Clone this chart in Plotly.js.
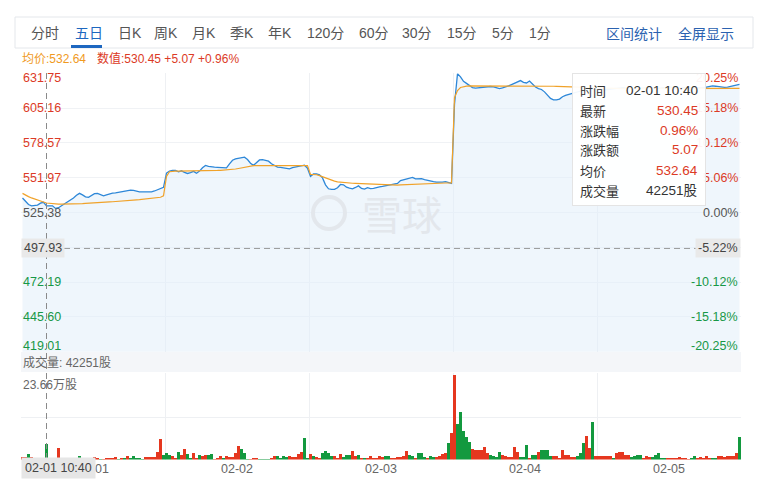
<!DOCTYPE html>
<html><head><meta charset="utf-8">
<script src="https://cdn.plot.ly/plotly-3.0.1.min.js"></script>
<style>html,body{margin:0;padding:0;background:#fff}#c{width:769px;height:483px}</style>
</head><body><div id="c"></div>
<script>
// ---------- data ----------
const days = ['02-01','02-02','02-03','02-04','02-05'];
const perDay = 48;
const price1 = [536.5,534,531.5,530.4,530.8,531,532.5,533.2,530.45,530.4,530.5,528.5,529,530.5,532,533.3,534.5,536.5,538.5,540,538.8,537.3,537,538.5,539.8,540,538.8,538.1,538.8,539.6,540.2,540.4,540.8,541.2,541.4,541.9,542.4,542.2,541.6,541.2,541.2,541.1,541.2,541.2,541.8,542.6,543.4,544.6];
const price2 = [555.5,557,557.5,557.6,556.4,557.2,556,555.2,555.8,556.8,555.4,557,559.5,561.3,560.6,560.1,560,559.9,559.7,559.6,559.4,562.5,565.3,566.3,566.9,567.3,567.6,565.8,563,561.4,563.8,565.5,565.8,565.4,564.6,562.6,561,560.1,559.9,559.6,559.1,558.7,559.6,560.2,560.5,561,561.5,559.2];
const price3 = [553,554.8,554.8,554.2,551.8,546.5,543.5,543,543,544.3,546.8,546.5,544.7,544,543.4,544.5,545.7,543.8,543.2,544.4,543.6,543.8,544.6,545,545.3,545.7,546.1,546.5,546.8,547.6,549.8,550.4,551,551.7,552.2,551.1,551.4,551.3,550.4,549.8,549.3,548.9,548.6,548.4,548.6,548.9,548.5,547.6];
const price4 = [608,631.3,629,625.5,624,622.5,620.8,620.4,620.6,621.1,621.5,621.7,621.6,621.3,620.8,620,620.5,621,622,623,624,625.2,626.1,624.8,624.3,625.8,623.5,621.2,620,619.3,617.5,615.2,612.5,611.4,611.4,612,613.8,614.8,615.6,616.4,617,617.5,618,618.5,619,619.3,619.5,619.8];
const price5 = [619.5,619.2,619,619.3,619.6,619.9,620.2,620.5,620.8,620.5,620.2,620,619.8,620,620.3,620.6,620.8,621,620.7,620.4,620.2,620.5,620.8,621.1,621.3,621,620.7,620.5,620.8,621,621.2,621.4,621.1,620.8,620.5,620.7,621.2,621.6,622,621.8,621.4,621,620.9,621.2,621.6,622,622.6,623.3];

const avg1 = [540,538.6,537.5,536.5,535.6,534.9,534.2,533.4,532.64,532.3,532.1,531.9,531.8,531.7,531.7,531.7,531.7,531.8,531.9,532,532.2,532.4,532.6,532.8,533,533.1,533.2,533.3,533.4,533.5,533.6,533.7,533.8,534,534.2,534.4,534.6,534.8,535,535.2,535.4,535.6,535.8,536,536.1,536.4,537,538.1];
const avg2 = [553,556.5,557,557,557,557,557,557,557,557,557,557.1,557.2,557.3,557.3,557.4,557.5,557.5,557.6,557.7,557.8,558,558.3,558.6,559,559.5,560,560.5,560.9,561.1,561.2,561.2,561.2,561.2,561.2,561.2,561.2,561.2,561.2,561.2,561.2,561.2,561.2,561.2,561.2,561.2,561.2,561.2];
const avg3 = [554.5,554.6,554.2,553.5,552.6,551.5,550.5,549.8,549.3,548.8,548.5,548.3,548.1,547.9,547.7,547.6,547.5,547.4,547.3,547.2,547.1,547,546.8,546.6,546.4,546.3,546.3,546.3,546.3,546.3,546.4,546.5,546.7,546.9,547.1,547.3,547.5,547.6,547.7,547.8,547.8,547.9,547.9,547.9,547.9,547.9,547.9,547.9];
const avg4 = [613,618.5,620.8,621.6,621.9,622,622,622,622,622,622,622,622,622,622,622,622,622,622,622,622,622.1,622.2,622.2,622.3,622.3,622.3,622.3,622.2,622.2,622.1,622,621.9,621.8,621.7,621.6,621.5,621.4,621.3,621.2,621.1,621,620.9,620.8,620.7,620.6,620.5,620.4];
const avg5 = [620.3,620.2,620.2,620.1,620.1,620.1,620.1,620,620,620,620,620,620,620,620,620,620,620,620,620,620,620,620,620,620,620,620,620,620,620,620,620,620,620,620,620,620,620,620,620,620,620,620,620,620,620,620,620.1];

// volume in 万股, up: 1 = red, 0 = green
const vol1 = [0.75,0.7,1.6,0.65,0.5,0.5,0.4,0.3,4.23,0.5,0.2,0.2,3.3,0.4,0.3,0.3,0.3,0.5,0.4,0.95,0.4,0.4,0.2,0.3,0.75,0.4,0.2,0.2,0.3,0.55,0.5,0.65,0.2,0.4,0.5,0.95,0.3,0.95,0.5,0.3,0.2,0.75,0.75,0.75,0.75,2.2,5.8,1.4];
const up1  = [1,1,0,1,1,1,1,1,0,1,1,0,1,1,1,1,1,1,0,0,0,1,1,1,1,1,0,1,1,1,1,1,0,1,0,1,0,0,0,0,0,1,1,1,1,1,1,0];
const vol2 = [1.7,1.3,1.1,0.5,2.1,1.2,3.0,1.6,0.5,1.7,0.5,1.4,0.95,1.2,1.4,1.6,0.2,0.5,0.95,0.5,0.95,0.75,0.65,1.9,3.9,3.0,1.9,0.2,0.2,0.3,0.3,0.1,0.1,0.1,0.1,0.3,1.1,0.95,0.4,0.95,0.75,0.95,0.75,0.8,1.6,2.1,5.9,0.5];
const up2  = [0,0,1,1,0,1,1,0,0,1,1,0,1,1,0,0,1,1,1,0,1,1,1,1,1,0,0,0,1,1,1,0,0,0,0,1,1,0,0,0,0,1,1,1,1,1,0,0];
const vol3 = [1.6,0.95,0.75,0.4,1.7,2.3,1.9,1.1,0.95,0.5,1.6,0.75,1.4,1.4,2.3,1.0,1.3,0.5,0.4,0.3,0.95,0.5,0.4,0.95,0.75,0.95,0.9,0.5,0.3,0.6,0.6,0.9,2.3,1.2,0.9,0.5,1.9,1.7,0.6,0.4,0.9,0.8,0.6,1.1,1.5,1.7,4.5,7.3];
const up3  = [1,0,1,1,0,0,0,0,1,1,1,0,0,0,1,1,0,1,0,1,1,1,1,1,1,0,0,1,1,1,1,1,1,0,0,1,0,0,0,1,0,0,1,1,1,1,0,1];
const vol4 = [23.66,9.9,13.2,8.0,6.4,5.0,3.0,2.8,2.8,2.6,3.6,1.7,1.2,0.9,0.7,2.2,1.2,0.85,0.8,0.75,3.6,2.2,0.75,0.6,4.2,0.55,1.2,1.4,2.2,2.6,2.7,2.8,0.95,1.0,1.0,0.45,2.6,1.4,1.2,0.6,0.8,1.0,1.7,4.7,6.7,3.1,10.4,1.0];
const up4  = [1,0,0,0,0,0,1,1,1,1,1,1,0,0,0,0,1,1,1,1,1,1,0,0,0,1,0,0,1,0,0,0,0,1,1,1,1,1,1,1,1,0,0,0,1,1,0,1];
const vol5 = [1.0,0.85,1.0,0.85,0.85,0.3,1.7,2.0,2.2,1.4,1.2,0.6,1.0,1.2,1.2,0.55,1.0,0.75,0.8,1.2,1.7,0.55,0.55,0.45,0.55,0.3,0.5,0.75,0.45,0.3,0.2,0.3,1.0,0.55,0.75,0.5,0.85,0.3,0.3,0.45,1.0,1.0,0.75,1.0,0.9,1.0,1.9,6.2];
const up5  = [1,1,1,1,1,0,1,1,1,1,1,0,0,0,0,1,1,1,0,0,0,0,0,1,1,1,1,1,1,1,1,0,0,1,1,1,1,1,0,0,1,1,1,1,1,1,1,0];

const priceTicks = [631.75,605.16,578.57,551.97,525.38,498.79,472.19,445.60,419.01];
const leftLabelVals = [631.75,605.16,578.57,551.97,525.38,472.19,445.60,419.01];
const rightLabels = ['20.25%','15.18%','10.12%','5.06%','0.00%','-10.12%','-15.18%','-20.25%'];
const labelKind = ['up','up','up','up','base','down','down','down'];
const crossPrice = 497.93, crossPct = '-5.22%';
const crossIndex = 8, crossTime = '02-01 10:40';
const volMaxLabel = '23.66万股', volMax = 23.66;
const tipKeys = ['时间','最新','涨跌幅','涨跌额','均价','成交量'];
const tipVals = ['02-01 10:40','530.45','0.96%','5.07','532.64','42251股'];
const tipRed  = [0,1,1,1,1,0];
const tabs = ['分时','五日','日K','周K','月K','季K','年K','120分','60分','30分','15分','5分','1分'];
const tabsRight = ['区间统计','全屏显示'];
const headAvg = '均价:532.64', headVal = '数值:530.45 +5.07 +0.96%';
const volHead = '成交量: 42251股';

// ---------- build ----------
const price = [].concat(price1,price2,price3,price4,price5);
const avg = [].concat(avg1,avg2,avg3,avg4,avg5);
const vol = [].concat(vol1,vol2,vol3,vol4,vol5);
const up = [].concat(up1,up2,up3,up4,up5);
const N = price.length;
const xs = price.map((_,i)=>i+0.5);
const RED='#e5371f', GREEN='#13993f', TRED='#dc3a26', TGREEN='#179846', GRAY='#555';
const W=769,H=483;
const px=v=>v/W, py=v=>1-v/H;
const FONT='Liberation Sans, Noto Sans CJK SC, sans-serif';
const dayBounds = days.map((_,i)=>i*perDay).concat([days.length*perDay]);
const dayCenters = days.map((_,i)=>i*perDay+perDay/2);

const traces = [
 {x:xs,y:price,type:'scatter',mode:'lines',line:{color:'#2d87d8',width:1.3},fill:'tozeroy',fillcolor:'rgba(226,238,250,0.55)',xaxis:'x',yaxis:'y',hoverinfo:'skip'},
 {x:xs,y:avg,type:'scatter',mode:'lines',line:{color:'#f0a22a',width:1.2},xaxis:'x',yaxis:'y',hoverinfo:'skip'},
 {x:xs,y:vol,type:'bar',marker:{color:up.map(u=>u?RED:GREEN),line:{width:0}},width:0.82,xaxis:'x2',yaxis:'y2',hoverinfo:'skip'}
];

const ann = [];
function A(o){ann.push(Object.assign({showarrow:false,font:{family:FONT,size:12,color:GRAY}},o));}
// watermark
A({text:'雪球',xref:'paper',yref:'paper',x:px(402),y:py(213),xanchor:'center',yanchor:'middle',font:{family:'Noto Sans CJK SC',size:40,color:'#e3e7ec'}});
// left & right price labels
leftLabelVals.forEach((v,i)=>{
  const k=labelKind[i];
  const c = k==='up'?TRED:(k==='down'?TGREEN:GRAY);
  const sh = i===0?-5:(i===leftLabelVals.length-1?6:0);
  A({text:v.toFixed(2),xref:'paper',yref:'y',x:px(21),y:v,xanchor:'left',yanchor:'middle',yshift:sh,font:{family:FONT,size:12.5,color:c}});
  A({text:rightLabels[i],xref:'paper',yref:'y',x:px(740),y:v,xanchor:'right',yanchor:'middle',yshift:sh,font:{family:FONT,size:12.5,color:c}});
});
// crosshair labels
A({text:crossPrice.toFixed(2),xref:'paper',yref:'y',x:px(21),y:crossPrice,xanchor:'left',yanchor:'middle',bgcolor:'#e9e9e9',borderpad:2,font:{family:FONT,size:12.5,color:'#444'}});
A({text:crossPct,xref:'paper',yref:'y',x:px(741),y:crossPrice,xanchor:'right',yanchor:'middle',bgcolor:'#e9e9e9',borderpad:2,font:{family:FONT,size:12.5,color:'#444'}});
A({text:crossTime,xref:'paper',yref:'paper',x:px(21),y:py(468),xanchor:'left',yanchor:'middle',bgcolor:'#e6e6e6',borderpad:3,font:{family:FONT,size:12.5,color:'#444'}});
// tooltip
A({text:' ',xref:'paper',yref:'paper',x:px(572),y:py(73),xanchor:'left',yanchor:'top',width:132,height:131,borderpad:0,bgcolor:'rgba(255,255,255,0.94)',bordercolor:'#e4e4e4',borderwidth:1});
tipKeys.forEach((k,i)=>{
  const yy = 90+i*20;
  A({text:k,xref:'paper',yref:'paper',x:px(578),y:py(yy),xanchor:'left',yanchor:'middle',font:{family:'Noto Sans CJK SC',size:13,color:'#333'}});
  A({text:tipVals[i],xref:'paper',yref:'paper',x:px(700),y:py(yy),xanchor:'right',yanchor:'middle',font:{family:FONT,size:13.5,color:tipRed[i]?TRED:'#333'}});
});
// header
A({text:headAvg,xref:'paper',yref:'paper',x:px(20),y:py(59),xanchor:'left',yanchor:'middle',font:{family:FONT,size:12,color:'#f09a1e'}});
A({text:headVal,xref:'paper',yref:'paper',x:px(95),y:py(59),xanchor:'left',yanchor:'middle',font:{family:FONT,size:12,color:TRED}});
// tabs
const tabX = [29,73,116,152,190,228,266,305,357,400,445,490,527];
tabs.forEach((t,i)=>{
  A({text:t,xref:'paper',yref:'paper',x:px(tabX[i]),y:py(33),xanchor:'left',yanchor:'middle',font:{family:FONT,size:14,color:i===1?'#1d67c0':'#555'}});
});
A({text:tabsRight[0],xref:'paper',yref:'paper',x:px(604),y:py(33),xanchor:'left',yanchor:'middle',font:{family:'Noto Sans CJK SC',size:14,color:'#2b62b0'}});
A({text:tabsRight[1],xref:'paper',yref:'paper',x:px(676),y:py(33),xanchor:'left',yanchor:'middle',font:{family:'Noto Sans CJK SC',size:14,color:'#2b62b0'}});
// volume texts
A({text:volHead,xref:'paper',yref:'paper',x:px(21),y:py(362),xanchor:'left',yanchor:'middle',font:{family:FONT,size:12,color:'#666'}});
A({text:volMaxLabel,xref:'paper',yref:'paper',x:px(21),y:py(385),xanchor:'left',yanchor:'middle',font:{family:FONT,size:12,color:'#666'}});

const shapes = [
 {type:'rect',xref:'paper',yref:'paper',x0:px(15),x1:px(753),y0:py(17),y1:py(48),line:{color:'#e4e7eb',width:1},fillcolor:'rgba(0,0,0,0)',layer:'below'},
 {type:'rect',xref:'paper',yref:'paper',x0:px(71),x1:px(102),y0:py(45),y1:py(48),line:{width:0},fillcolor:'#1d67c0'},
 {type:'rect',xref:'paper',yref:'paper',x0:px(21),x1:px(741),y0:py(372),y1:py(352),line:{width:0},fillcolor:'#f4f6f9',layer:'below'},
 {type:'circle',xref:'paper',yref:'paper',x0:px(313),x1:px(345),y0:py(229),y1:py(197),line:{color:'#e3e7ec',width:4}},
 {type:'line',xref:'x',yref:'paper',x0:crossIndex+0.5,x1:crossIndex+0.5,y0:py(459),y1:py(73),line:{color:'#8a8a8a',width:1,dash:'6px,4px'}},
 {type:'line',xref:'paper',yref:'y',x0:px(64),x1:px(696),y0:crossPrice,y1:crossPrice,line:{color:'#9a9a9a',width:1,dash:'6px,4px'}}
];

const layout = {
 width:W,height:H,margin:{l:0,r:0,t:0,b:0},paper_bgcolor:'#fff',plot_bgcolor:'rgba(0,0,0,0)',
 showlegend:false,bargap:0,
 xaxis:{domain:[px(21),px(741)],range:[0,N],anchor:'y',tickmode:'array',tickvals:dayBounds,showticklabels:false,showgrid:true,gridcolor:'#eef0f3',zeroline:false,showline:false,ticks:''},
 yaxis:{domain:[py(351.8),py(73.2)],range:[419.01,631.75],anchor:'x',tickmode:'array',tickvals:priceTicks,showticklabels:false,showgrid:true,gridcolor:'#f0f2f5',zeroline:false,ticks:''},
 xaxis2:{domain:[px(21),px(741)],range:[0,N],anchor:'y2',tickmode:'array',tickvals:dayCenters,ticktext:days,tickfont:{family:FONT,size:12.5,color:'#666'},showgrid:false,zeroline:false,ticks:'',showline:false,
   minor:{tickmode:'array',tickvals:dayBounds,showgrid:true,gridcolor:'#eef0f3',ticks:''}},
 yaxis2:{domain:[py(459.5),py(373)],range:[0,volMax*86.5/84.3],anchor:'x2',tickmode:'array',tickvals:[volMax/2,volMax*86.5/84.3],showticklabels:false,showgrid:true,gridcolor:'#eef0f3',zeroline:false,ticks:''},
 annotations:ann,shapes:shapes
};
Plotly.newPlot('c',traces,layout,{displayModeBar:false,staticPlot:true});
</script></body></html>
